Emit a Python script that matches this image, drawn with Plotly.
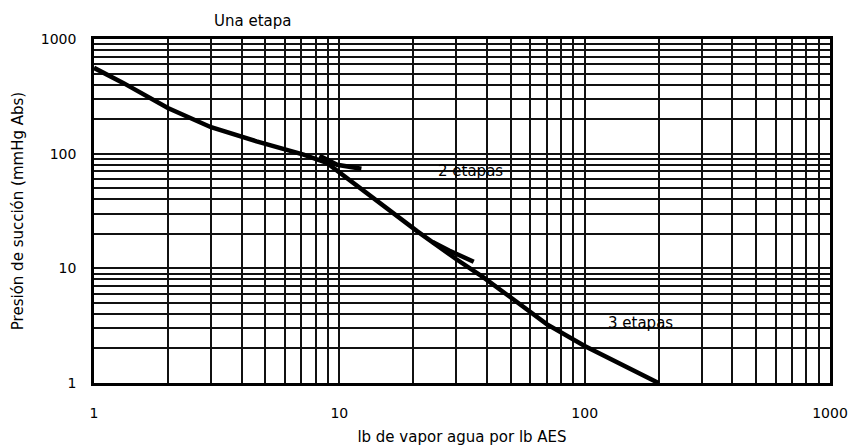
import plotly.graph_objects as go

# Main curve
curve_x = [1, 1.32, 2, 3, 4.6, 7.15, 8.9, 13.4, 20.8, 30, 38.8, 50, 70, 100, 200]
curve_y = [560, 412, 250, 170, 128, 98, 83, 42.5, 21, 12, 8.3, 5.56, 3.26, 2.1, 1]

# "2 etapas" branch stub
stub2_x = [8.3, 9.8, 12.3]
stub2_y = [96, 80, 74]

# "3 etapas" branch stub
stub3_x = [24, 28, 35.3]
stub3_y = [17.0, 14.3, 11.4]

# Axis ticks
grid_vals = [m * 10 ** e for e in range(3) for m in range(1, 10)] + [1000]
grid_text = [(str(v) if v in (1, 10, 100, 1000) else "") for v in grid_vals]

x_title = "lb de vapor agua por lb AES"
y_title = "Presión de succión (mmHg Abs)"
labels = ["Una etapa", "2 etapas", "3 etapas"]

FONT = "DejaVu Sans"
LINE = dict(color="black", width=4.5)

fig = go.Figure()
fig.add_trace(go.Scatter(x=curve_x, y=curve_y, mode="lines", line=LINE, hoverinfo="skip"))
fig.add_trace(go.Scatter(x=stub2_x, y=stub2_y, mode="lines", line=LINE, hoverinfo="skip"))
fig.add_trace(go.Scatter(x=stub3_x, y=stub3_y, mode="lines", line=LINE, hoverinfo="skip"))

axis_common = dict(
    type="log",
    tickmode="array",
    tickvals=grid_vals,
    ticktext=grid_text,
    showgrid=True,
    gridcolor="#111111",
    gridwidth=1.6,
    showline=True,
    linecolor="black",
    linewidth=2.5,
    mirror=True,
    ticks="",
    zeroline=False,
    automargin=False,
    tickfont=dict(family=FONT, size=14, color="black"),
)

fig.update_xaxes(
    **axis_common,
    range=[0, 3],
    ticklabelstandoff=15,
    title=dict(text=x_title, font=dict(family=FONT, size=15, color="black"), standoff=14),
)
fig.update_yaxes(
    **axis_common,
    range=[0, 3],
    ticklabelstandoff=12,
    title=dict(text=y_title, font=dict(family=FONT, size=15, color="black"), standoff=14),
)

ann_font = dict(family=FONT, size=15, color="black")
fig.add_annotation(text=labels[0], x=0.215, y=1.052, xref="paper", yref="paper",
                   xanchor="center", yanchor="middle", showarrow=False, font=ann_font)
fig.add_annotation(text=labels[1], x=0.512, y=0.616, xref="paper", yref="paper",
                   xanchor="center", yanchor="middle", showarrow=False, font=ann_font)
fig.add_annotation(text=labels[2], x=0.743, y=0.174, xref="paper", yref="paper",
                   xanchor="center", yanchor="middle", showarrow=False, font=ann_font)

fig.update_layout(
    width=853,
    height=446,
    margin=dict(l=94, r=23, t=39, b=63),
    paper_bgcolor="white",
    plot_bgcolor="white",
    showlegend=False,
    font=dict(family=FONT, color="black"),
)

fig.write_html("out.html")
